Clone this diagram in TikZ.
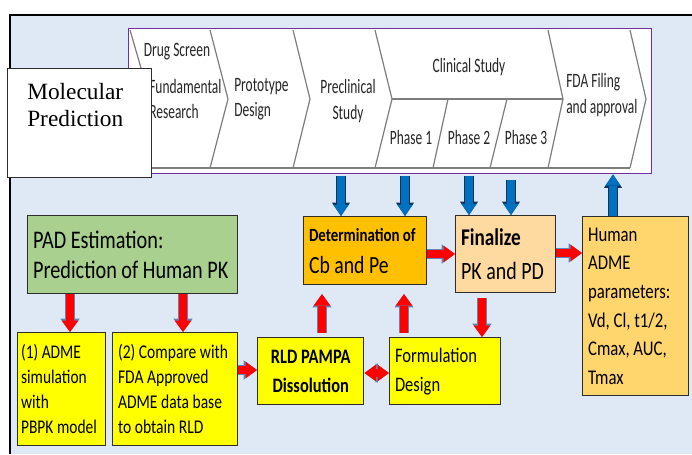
\documentclass[tikz,border=0pt]{standalone}
\usepackage{fontspec}
\setmainfont{Carlito}[FakeStretch=0.8]
\newfontfamily\chevfont{Carlito}[FakeStretch=0.66]
\newfontfamily\serfont{Liberation Serif}
\usetikzlibrary{arrows.meta}
\definecolor{bgblue}{RGB}{222,233,245}
\definecolor{tlpurple}{RGB}{112,48,160}
\definecolor{chevgray}{RGB}{125,125,125}
\definecolor{padgreen}{RGB}{169,208,142}
\definecolor{boxyellow}{RGB}{255,255,0}
\definecolor{detorange}{RGB}{255,192,0}
\definecolor{finpeach}{RGB}{255,218,160}
\definecolor{humgold}{RGB}{255,214,110}
\definecolor{arrred}{RGB}{255,0,0}
\definecolor{arredge}{RGB}{100,130,180}
\definecolor{arrblue}{RGB}{0,112,192}
\definecolor{blueedge}{RGB}{20,50,90}
\definecolor{boxedge}{RGB}{45,45,45}
\tikzset{
  box/.style={draw=boxedge, line width=1.1pt, inner xsep=4pt, inner ysep=2pt, align=flush left, anchor=north west},
  chev/.style={inner sep=0pt, text=black!85, font=\chevfont\fontsize{15.3}{19}\selectfont},
  chevline/.style={draw=chevgray, line width=0.9pt},
  redout/.style={draw=arredge, line width=7.6pt, >={Triangle[width=14.5pt,length=10pt,line width=0pt]}},
  redin/.style={draw=arrred, line width=6pt, >={Triangle[width=12.5pt,length=8.6pt,line width=0pt]}},
  blueout/.style={draw=blueedge, line width=7pt, >={Triangle[width=13.5pt,length=10pt,line width=0pt]}},
  bluein/.style={draw=arrblue, line width=5.4pt, >={Triangle[width=11.5pt,length=8.4pt,line width=0pt]}},
}
\newcommand\myredarr[3][->]{\draw[redout,#1] #2 -- #3; \draw[redin,#1] #2 -- #3;}
\newcommand\mybluearr[3][->]{\draw[blueout,#1] #2 -- #3; \draw[bluein,#1] #2 -- #3;}
\begin{document}
\begin{tikzpicture}[x=0.75pt,y=-0.75pt]
\useasboundingbox (0,0) rectangle (692,454);
% frame and background
\fill[bgblue] (10,15) rectangle (692,454);
\draw[line width=1.5pt] (10,454) -- (10,15) -- (692,15);
% timeline box
\node[draw=tlpurple, line width=1.1pt, fill=white, minimum width=392.25pt, minimum height=108.75pt, anchor=north west, inner sep=0pt] (tl) at (128,28) {};
% chevrons
\draw[chevline] (130,30) -- (150,99) -- (130,168);
\draw[chevline] (210,30) -- (228,99) -- (210,168);
\draw[chevline] (293,30) -- (310,99) -- (293,168);
\draw[chevline] (375,30) -- (392,99) -- (375,168);
\draw[chevline] (548,30) -- (563,99) -- (548,168);
\draw[chevline] (630,30) -- (646,99) -- (630,168);
\draw[chevline] (392,99) -- (563,99);
\draw[chevline] (448,99) -- (433,168);
\draw[chevline] (507,99) -- (490,168);
\draw[draw=chevgray, line width=1.4pt] (130,168) -- (630,168);
% chevron texts
\node[chev] (tdrug) at (177,52) {Drug Screen};
\node[chev, anchor=west, align=left] (tfund) at (149,99) {Fundamental\\Research};
\node[chev, anchor=west, align=left] (tproto) at (234,99) {Prototype\\Design};
\node[chev, align=center] (tprec) at (348,101) {Preclinical\\Study};
\node[chev] (tclin) at (469,67) {Clinical Study};
\node[chev] (tph1) at (411,137) {Phase 1};
\node[chev] (tph2) at (469,137) {Phase 2};
\node[chev] (tph3) at (526,137) {Phase 3};
\node[chev, anchor=west, align=left] (tfda) at (566,95) {FDA Filing\\and approval};
% molecular prediction
\node[draw=boxedge, line width=1pt, fill=white, minimum width=108pt, minimum height=81.75pt, anchor=north west, inner sep=0pt] (mol) at (7,68) {};
\node[anchor=north west, inner sep=0pt, align=left, font=\serfont\fontsize{17.5}{20}\selectfont] (moltext) at (27,83) {Molecular\\Prediction};
% boxes
\node[box, fill=padgreen, text width=149.5pt, minimum height=58.5pt, font=\fontsize{19}{22.5}\selectfont, inner xsep=4pt] (pad) at (27,215) {PAD Estimation:\\Prediction of Human PK};
\node[box, fill=boxyellow, inner xsep=2.5pt, text width=61pt, minimum height=84.75pt, font=\fontsize{14.5}{18.75}\selectfont] (b1) at (17,332) {(1) ADME\\simulation\\with\\PBPK model};
\node[box, fill=boxyellow, text width=85.75pt, minimum height=84.75pt, font=\fontsize{14.6}{18.75}\selectfont] (b2) at (112,332) {(2) Compare with\\FDA Approved\\ADME data base\\to obtain RLD};
\node[box, fill=boxyellow, text width=71.5pt, minimum height=50.25pt, align=flush center, font=\bfseries\fontsize{15.4}{21.75}\selectfont] (rld) at (257,337) {RLD PAMPA\\Dissolution};
\node[box, fill=boxyellow, text width=75.25pt, minimum height=50.25pt, font=\fontsize{15.5}{21.75}\selectfont] (form) at (389,337) {Formulation\\Design};
\node[box, fill=detorange, text width=84.25pt, minimum height=51pt, font=\fontsize{18.5}{24}\selectfont] (det) at (303,216) {{\bfseries\fontsize{14}{24}\selectfont Determination of}\\Cb and Pe};
\node[box, fill=finpeach, text width=67pt, minimum height=57.75pt, font=\fontsize{18.7}{25.5}\selectfont] (fin) at (455,215) {{\bfseries\fontsize{18}{25.5}\selectfont Finalize}\\PK and PD};
\node[box, fill=humgold, text width=71.5pt, minimum height=134.25pt, font=\fontsize{15.7}{21.5}\selectfont] (hum) at (582,216) {Human\\ADME\\parameters:\\Vd, Cl, t1/2,\\Cmax, AUC,\\Tmax};
% arrow positions
\coordinate (ax1) at (70,0);
\coordinate (ax2) at (183,0);
\coordinate (ax3) at (322,0);
\coordinate (ax4) at (404,0);
\coordinate (ax5) at (482,0);
\coordinate (bx1) at (341,0);
\coordinate (bx2) at (405,0);
\coordinate (bx3) at (469,0);
\coordinate (bx4) at (511,0);
\coordinate (bx5) at (613,0);
\coordinate (ay1) at (0,370);
\coordinate (ay2) at (0,373);
\coordinate (ay3) at (0,254);
\coordinate (ay4) at (0,253);
% red arrows
\myredarr{(pad.south -| ax1)}{(b1.north -| ax1)}
\myredarr{(pad.south -| ax2)}{(b2.north -| ax2)}
\myredarr{(b2.east |- ay1)}{(rld.west |- ay1)}
\myredarr[<->]{(rld.east |- ay2)}{(form.west |- ay2)}
\myredarr[->,shorten <=3pt,shorten >=6.5pt]{(rld.north -| ax3)}{(det.south -| ax3)}
\myredarr[->,shorten <=3pt,shorten >=6.5pt]{(form.north -| ax4)}{(det.south -| ax4)}
\myredarr{(det.east |- ay3)}{(fin.west |- ay3)}
\myredarr[->,shorten <=3.5pt]{(fin.south -| ax5)}{(form.north -| ax5)}
\myredarr{(fin.east |- ay4)}{(hum.west |- ay4)}
% blue arrows
\mybluearr[->,shorten <=1.5pt]{(tl.south -| bx1)}{(det.north -| bx1)}
\mybluearr[->,shorten <=1.5pt]{(tl.south -| bx2)}{(det.north -| bx2)}
\mybluearr[->,shorten <=1.5pt]{(tl.south -| bx3)}{(fin.north -| bx3)}
\mybluearr[->,shorten <=4pt]{(tl.south -| bx4)}{(fin.north -| bx4)}
\mybluearr{(hum.north -| bx5)}{(tl.south -| bx5)}
\end{tikzpicture}
\end{document}
